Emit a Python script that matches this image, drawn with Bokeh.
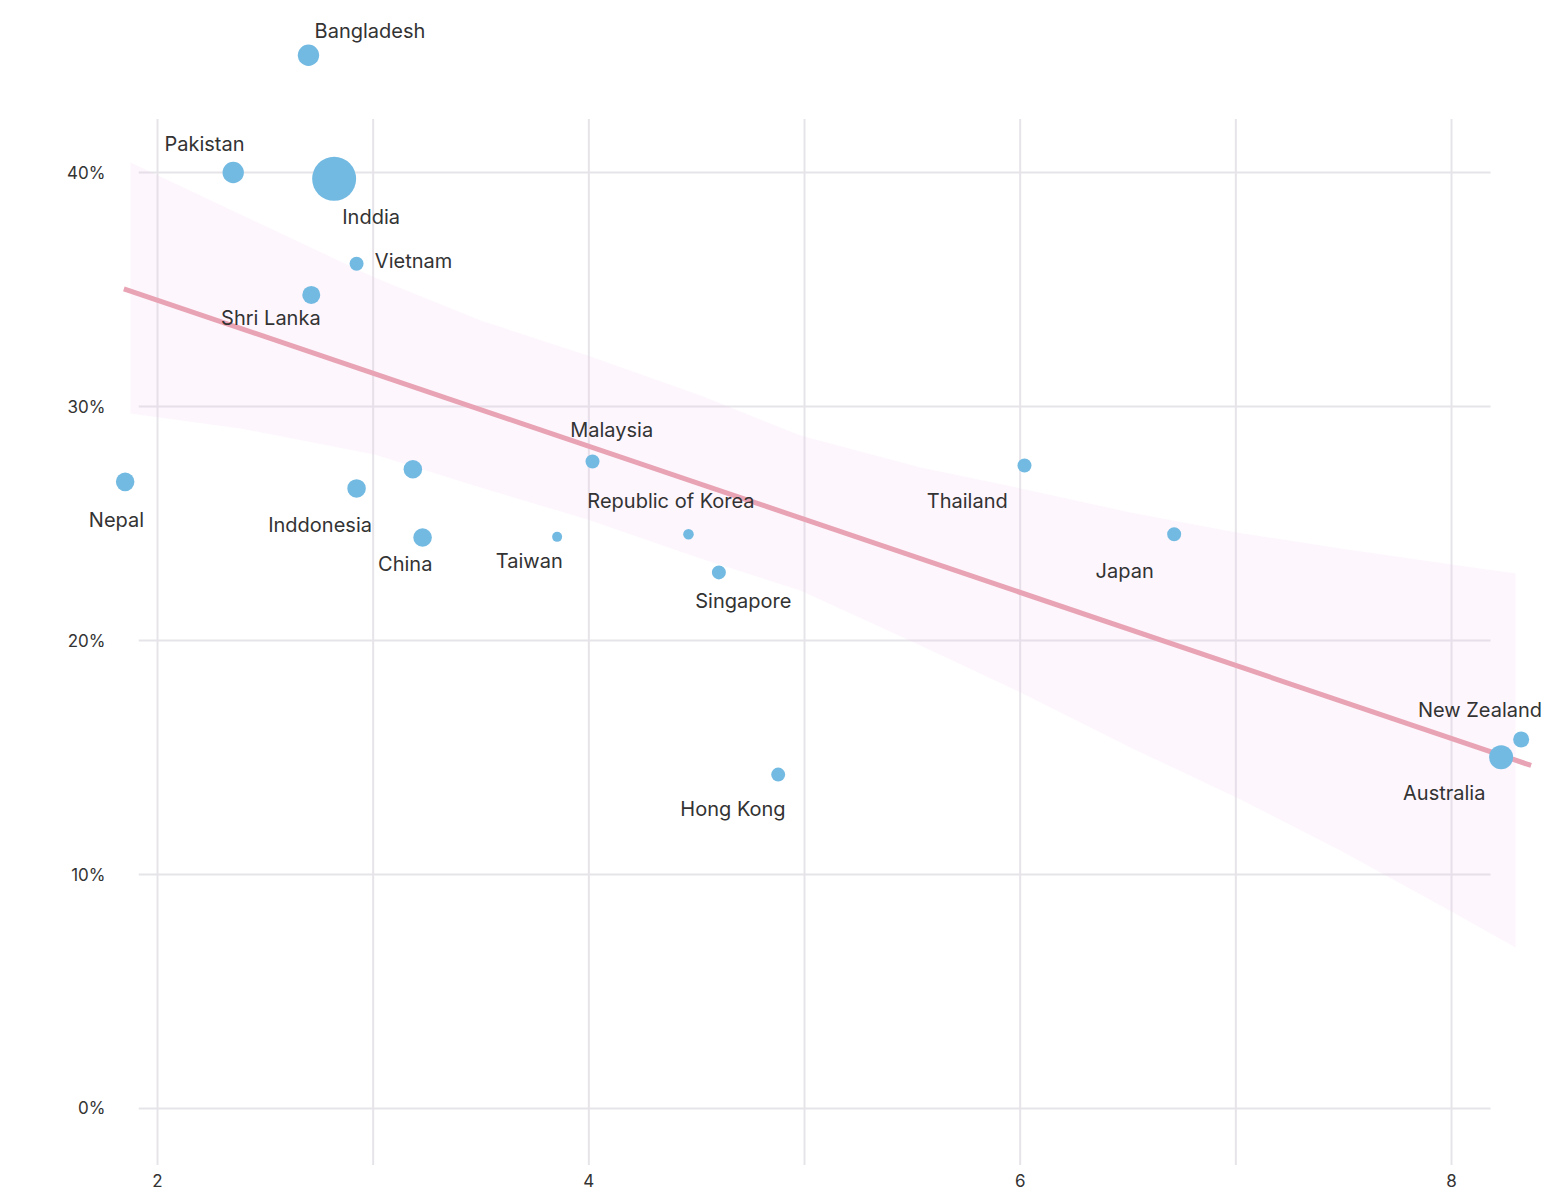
from bokeh.plotting import figure
from bokeh.models import ColumnDataSource, Range1d, SingleIntervalTicker, NumeralTickFormatter, LabelSet
from bokeh.core.properties import value
from bokeh.embed import file_html
from bokeh.resources import INLINE
import numpy as np

# ---------------- data ----------------
countries = ["Bangladesh", "Pakistan", "Inddia", "Vietnam", "Shri Lanka", "Nepal",
             "Inddonesia", "", "China", "Malaysia", "Taiwan", "Republic of Korea",
             "Singapore", "Thailand", "Japan", "Hong Kong", "New Zealand", "Australia"]
x_vals = [2.700, 2.351, 2.819, 2.923, 2.713, 1.850,
          2.923, 3.184, 3.229, 4.017, 3.853, 4.462,
          4.603, 6.020, 6.714, 4.878, 8.323, 8.230]
y_vals = [0.4501, 0.4000, 0.3973, 0.3610, 0.3477, 0.2678,
          0.2650, 0.2732, 0.2440, 0.2765, 0.2443, 0.2454,
          0.2291, 0.2748, 0.2454, 0.1427, 0.1577, 0.1501]
weight = [114, 114, 484, 49, 81, 86,
          86, 86, 86, 49, 25, 28,
          49, 49, 49, 49, 64, 144]

trend_x = [1.844, 8.369]
trend_y = [0.3503, 0.1466]

band_x = [1.875, 2.385, 3.006, 3.498, 3.994, 4.518, 4.981,
          5.538, 6.002, 6.511, 7.003, 7.485, 8.000, 8.297]
band_hi = [0.4043, 0.3821, 0.3551, 0.3368, 0.3218, 0.3047, 0.2876,
           0.2739, 0.2650, 0.2547, 0.2462, 0.2393, 0.2325, 0.2286]
band_lo = [0.2970, 0.2906, 0.2795, 0.2654, 0.2517, 0.2350, 0.2214,
           0.1979, 0.1778, 0.1543, 0.1329, 0.1103, 0.0842, 0.0688]

x_grid_ticks = [2, 3, 4, 5, 6, 7, 8]
y_grid_ticks = [0.0, 0.1, 0.2, 0.3, 0.4]

# ---------------- styling / placement ----------------
label_dx = [61.5, -28.7, 37.0, 57.0, -40.4, -8.7,
            -36.5, 0.0, -17.3, 19.2, -27.9, -17.5,
            24.4, -57.2, -49.5, -45.2, -41.2, -56.9]
label_dy = [-24.7, -28.7, 38.4, -2.6, 23.0, 38.0,
            37.0, 0.0, 26.3, -31.7, 23.7, -33.0,
            28.7, 35.7, 36.3, 34.3, -29.7, 35.6]

FONT = "Inter"
TXT = "#333333"
GRID = "#e6e4e8"

p = figure(width=1544, height=1195, output_backend="svg", toolbar_location=None,
           x_range=Range1d(1.5502, 8.4312), y_range=Range1d(-0.02436, 0.47009),
           min_border_left=60, min_border_right=0, min_border_top=8, min_border_bottom=30)
p.outline_line_color = None
p.background_fill_color = "white"
p.border_fill_color = "white"
p.xgrid.visible = False
p.ygrid.visible = False

# custom grid segments with limited extent
gx_bottom, gx_top = -0.0241, 0.4229
gy_left, gy_right = 1.913, 8.181
p.segment(x0=x_grid_ticks, y0=[gx_bottom] * len(x_grid_ticks),
          x1=x_grid_ticks, y1=[gx_top] * len(x_grid_ticks),
          line_color=GRID, line_width=2)
p.segment(x0=[gy_left] * len(y_grid_ticks), y0=y_grid_ticks,
          x1=[gy_right] * len(y_grid_ticks), y1=y_grid_ticks,
          line_color=GRID, line_width=2)

# confidence band
p.varea(x=band_x, y1=band_lo, y2=band_hi, fill_color="#f0c0f0", fill_alpha=0.15)

# trend line
p.line(trend_x, trend_y, line_color="#e8a3b4", line_width=5, line_cap="butt")

src = ColumnDataSource(dict(
    x=x_vals, y=y_vals, name=countries,
    size=[2 * np.sqrt(w) for w in weight],
    dx=label_dx, dy=[-d for d in label_dy],
))

p.scatter("x", "y", size="size", source=src, fill_color="#73bae2",
          line_color=None, fill_alpha=1.0)

labels = LabelSet(x="x", y="y", text="name", source=src, x_offset="dx", y_offset="dy",
                  text_align="center", text_baseline="middle",
                  text_font=value(FONT), text_font_size="20px", text_color=TXT)
p.add_layout(labels)

# axes
for ax in (p.xaxis[0], p.yaxis[0]):
    ax.axis_line_color = None
    ax.major_tick_line_color = None
    ax.minor_tick_line_color = None
    ax.major_tick_out = 0
    ax.major_tick_in = 0
    ax.minor_tick_out = 0
    ax.major_label_text_font = FONT
    ax.major_label_text_font_size = "17px"
    ax.major_label_text_color = TXT

p.xaxis[0].ticker = SingleIntervalTicker(interval=2)
p.xaxis[0].major_label_standoff = 8
p.yaxis[0].ticker = SingleIntervalTicker(interval=0.1)
p.yaxis[0].formatter = NumeralTickFormatter(format="0%")
p.yaxis[0].major_label_standoff = 10
p.yaxis[0].fixed_location = 1.8053

open("out.html", "w").write(file_html(p, INLINE))
